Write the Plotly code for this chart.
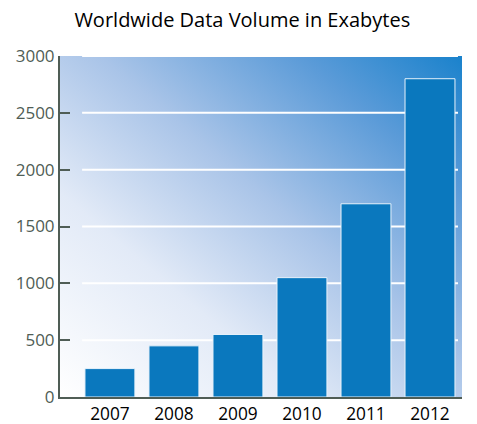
import base64
import plotly.graph_objects as go

years = ["2007", "2008", "2009", "2010", "2011", "2012"]
volume = [250, 450, 550, 1050, 1700, 2800]
y_ticks = [0, 500, 1000, 1500, 2000, 2500, 3000]
title = "Worldwide Data Volume in Exabytes"

svg = """<svg xmlns='http://www.w3.org/2000/svg' width='400' height='340' viewBox='0 0 400 340' preserveAspectRatio='none'>
<defs><linearGradient id='g' x1='0' y1='1' x2='1' y2='0'>
<stop offset='0' stop-color='#ffffff'/>
<stop offset='0.3' stop-color='#e2eaf7'/>
<stop offset='0.55' stop-color='#a9c4e8'/>
<stop offset='0.8' stop-color='#5b9bd8'/>
<stop offset='1' stop-color='#1a82cc'/>
</linearGradient></defs>
<rect width='400' height='340' fill='url(#g)'/></svg>"""
src = "data:image/svg+xml;base64," + base64.b64encode(svg.encode()).decode()

fig = go.Figure()
fig.add_trace(go.Bar(
    x=list(range(len(years))), y=volume,
    marker=dict(color="#0a78be", line=dict(color="#e8f2fb", width=1)),
    width=0.78,
))

shapes = []
for t in y_ticks[1:]:
    shapes.append(dict(type="line", xref="paper", yref="y", x0=0.055, x1=0.99, y0=t, y1=t,
                       line=dict(color="white", width=2), layer="below"))

fig.update_layout(
    width=477, height=424,
    margin=dict(l=60, r=15, t=56, b=27, autoexpand=False),
    paper_bgcolor="white", plot_bgcolor="rgba(0,0,0,0)",
    font=dict(family="Open Sans, Liberation Sans, sans-serif", size=16, color="black"),
    title=dict(text=title, x=0.508, xanchor="center", y=0.953, yanchor="middle",
               font=dict(size=20, color="black"), automargin=False),
    showlegend=False,
    images=[dict(source=src, xref="paper", yref="paper", x=0, y=1, sizex=1, sizey=1,
                 xanchor="left", yanchor="top", sizing="stretch", layer="below")],
    shapes=shapes,
    xaxis=dict(range=[-0.78, 5.5], tickvals=list(range(len(years))), ticktext=years,
               showgrid=False, zeroline=False, showline=True, linecolor="#4f5d55", linewidth=2,
               ticks="", tickfont=dict(size=17.3, color="black"), automargin=False),
    yaxis=dict(range=[0, 3000], tickvals=y_ticks, showgrid=False, zeroline=False,
               showline=True, linecolor="#4f5d55", linewidth=2,
               ticks="inside", ticklen=10, tickwidth=2, tickcolor="#4f5d55",
               tickfont=dict(size=17, color="#4f5d55"), automargin=False),
)
fig.write_html("out.html", config={"displayModeBar": False},
               post_script="document.body.style.margin='0';document.body.style.overflow='hidden';")
